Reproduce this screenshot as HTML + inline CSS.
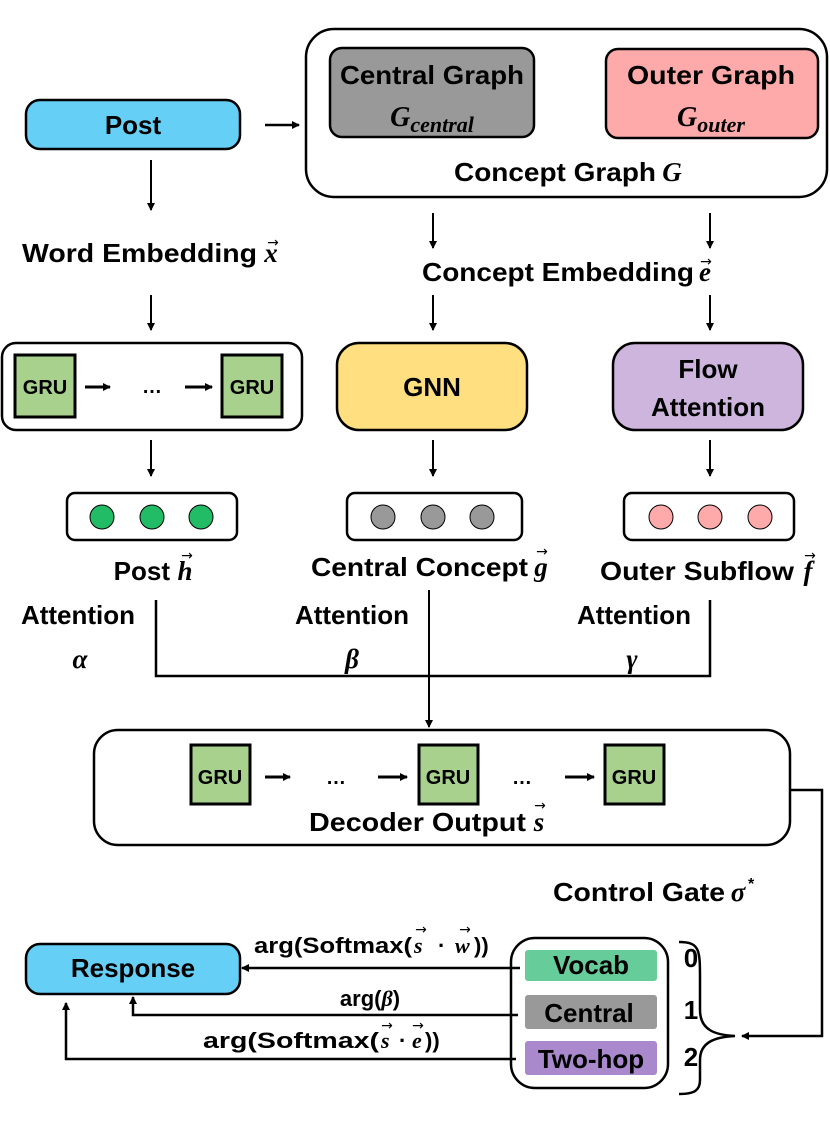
<!DOCTYPE html>
<html><head><meta charset="utf-8"><style>
html,body{margin:0;padding:0;background:#fff;}
svg{display:block;}
text{font-family:"Liberation Sans Narrow","Liberation Sans",sans-serif;font-weight:bold;fill:#000;}
text.m{font-family:"Liberation Serif",serif;font-style:italic;font-weight:bold;}
text.v{font-family:"DejaVu Sans",sans-serif;font-weight:normal;font-size:14px;}
</style></head><body>
<svg width="830" height="1148" viewBox="0 0 830 1148" xmlns="http://www.w3.org/2000/svg">
<defs>
<marker id="a" markerWidth="8" markerHeight="8" refX="7" refY="4" orient="auto" markerUnits="userSpaceOnUse"><path d="M0,0 L8,4 L0,8 z" fill="#000"/></marker>
</defs>
<g stroke="#000" stroke-width="2.5">
<rect x="26" y="100" width="214" height="49" rx="14" fill="#66CFF5"/>
<rect x="306" y="29" width="521" height="168" rx="28" fill="#fff"/>
<rect x="330" y="48" width="204" height="89" rx="12" fill="#999"/>
<rect x="606" y="49" width="212" height="89" rx="12" fill="#FFAAAA"/>
<rect x="2" y="343" width="300" height="87" rx="14" fill="#fff"/>
<rect x="15" y="355" width="60" height="62" fill="#A9D18E" stroke-width="3"/>
<rect x="222" y="355" width="60" height="62" fill="#A9D18E" stroke-width="3"/>
<rect x="337" y="343" width="190" height="87" rx="22" fill="#FFDF80"/>
<rect x="613" y="343" width="190" height="87" rx="22" fill="#CDB5DD"/>
<rect x="67" y="493" width="170" height="47" rx="8" fill="#fff"/>
<rect x="347" y="493" width="175" height="47" rx="8" fill="#fff"/>
<rect x="624" y="493" width="170" height="47" rx="8" fill="#fff"/>
<rect x="94" y="730" width="696" height="115" rx="24" fill="#fff"/>
<rect x="191" y="745" width="59" height="59" fill="#A9D18E" stroke-width="3"/>
<rect x="419" y="745" width="59" height="59" fill="#A9D18E" stroke-width="3"/>
<rect x="605" y="745" width="59" height="59" fill="#A9D18E" stroke-width="3"/>
<rect x="26" y="944" width="214" height="50" rx="14" fill="#66CFF5"/>
<rect x="511" y="938" width="157" height="150" rx="24" fill="#fff"/>
</g>
<g stroke="#000" stroke-width="1">
<circle cx="102" cy="517" r="12" fill="#22BB66"/>
<circle cx="152" cy="517" r="12" fill="#22BB66"/>
<circle cx="201" cy="517" r="12" fill="#22BB66"/>
<circle cx="383" cy="517" r="12" fill="#999"/>
<circle cx="433" cy="517" r="12" fill="#999"/>
<circle cx="482" cy="517" r="12" fill="#999"/>
<circle cx="661" cy="517" r="12" fill="#FFAAAA"/>
<circle cx="710" cy="517" r="12" fill="#FFAAAA"/>
<circle cx="760" cy="517" r="12" fill="#FFAAAA"/>
</g>
<rect x="525" y="950" width="132" height="31" rx="3" fill="#66CC99"/>
<rect x="525" y="995" width="132" height="34" rx="3" fill="#999"/>
<rect x="525" y="1041" width="132" height="34" rx="3" fill="#AA88CC"/>
<g stroke="#000" stroke-width="2" fill="none" marker-end="url(#a)">
<line x1="265" y1="125" x2="299" y2="125" stroke-width="2.5"/>
<line x1="151" y1="160" x2="151" y2="210"/>
<line x1="433" y1="213" x2="433" y2="248"/>
<line x1="710" y1="213" x2="710" y2="248"/>
<line x1="151" y1="295" x2="151" y2="330"/>
<line x1="433" y1="295" x2="433" y2="330"/>
<line x1="710" y1="295" x2="710" y2="330"/>
<line x1="151" y1="440" x2="151" y2="476"/>
<line x1="433" y1="440" x2="433" y2="476"/>
<line x1="710" y1="440" x2="710" y2="476"/>
<line x1="85" y1="387" x2="110" y2="387" stroke-width="3"/>
<line x1="185" y1="387" x2="212" y2="387" stroke-width="3"/>
<line x1="265" y1="777" x2="290" y2="777" stroke-width="3"/>
<line x1="378" y1="777" x2="407" y2="777" stroke-width="3"/>
<line x1="565" y1="777" x2="594" y2="777" stroke-width="3"/>
<line x1="429" y1="590" x2="429" y2="727"/>
</g>
<g stroke="#000" stroke-width="2.5" fill="none">
<polyline points="156,600 156,676 710,676 710,600"/>
<polyline points="790,790 822,790 822,1036 742,1036" marker-end="url(#a)"/>
<polyline points="520,968 242,968" marker-end="url(#a)"/>
<polyline points="518,1015 133,1015 133,997" marker-end="url(#a)"/>
<polyline points="516,1059 66,1059 66,1003" marker-end="url(#a)"/>
<path d="M679,942 C700,942 700,950 700,980 L700,1010 C700,1030 715,1035 735,1036 C715,1037 700,1042 700,1060 L700,1080 C700,1090 695,1094 679,1094"/>
</g>
<g font-size="26" text-anchor="middle">
<text x="133" y="134">Post</text>
<text x="432" y="84" textLength="184" lengthAdjust="spacingAndGlyphs">Central Graph</text>
<text x="711" y="84" textLength="168" lengthAdjust="spacingAndGlyphs">Outer Graph</text>
<text x="432" y="396">GNN</text>
<text x="708" y="378">Flow</text>
<text x="708" y="416">Attention</text>
<text x="78" y="624">Attention</text>
<text x="352" y="624">Attention</text>
<text x="634" y="624">Attention</text>
<text x="133" y="977">Response</text>
<text x="591" y="974">Vocab</text>
<text x="589" y="1022">Central</text>
<text x="591" y="1068">Two-hop</text>
<text x="691" y="967">0</text>
<text x="691" y="1019">1</text>
<text x="691" y="1066">2</text>
</g>
<g font-size="26" text-anchor="end">
<text x="656" y="181" textLength="202" lengthAdjust="spacingAndGlyphs">Concept Graph</text>
<text x="257" y="262" textLength="235" lengthAdjust="spacingAndGlyphs">Word Embedding</text>
<text x="694" y="281" textLength="272" lengthAdjust="spacingAndGlyphs">Concept Embedding</text>
<text x="170" y="580">Post</text>
<text x="528" y="576" textLength="217" lengthAdjust="spacingAndGlyphs">Central Concept</text>
<text x="794" y="580" textLength="194" lengthAdjust="spacingAndGlyphs">Outer Subflow</text>
<text x="526" y="831" textLength="217" lengthAdjust="spacingAndGlyphs">Decoder Output</text>
<text x="725" y="901" textLength="172" lengthAdjust="spacingAndGlyphs">Control Gate</text>
</g>
<g font-size="27" text-anchor="middle">
<text class="m" x="672" y="181">G</text>
<text class="m" x="271" y="262">x</text>
<text class="m" x="705" y="281">e</text>
<text class="m" x="185" y="580">h</text>
<text class="m" x="541" y="576">g</text>
<text class="m" x="808" y="580">f</text>
<text class="m" x="539" y="831">s</text>
<text class="m" x="738" y="901">σ</text>
<text class="m" x="80" y="668">α</text>
<text class="m" x="352" y="668">β</text>
<text class="m" x="632" y="668">γ</text>
</g>
<text x="748" y="889" font-size="16">*</text>
<g font-size="16" text-anchor="middle">
<text class="v" x="273" y="247">→</text>
<text class="v" x="706" y="266">→</text>
<text class="v" x="187" y="560">→</text>
<text class="v" x="542" y="556">→</text>
<text class="v" x="810" y="560">→</text>
<text class="v" x="540" y="810">→</text>
<text class="v" x="421" y="934">→</text>
<text class="v" x="465" y="934">→</text>
<text class="v" x="387" y="1030">→</text>
<text class="v" x="418" y="1030">→</text>
</g>
<g font-size="28" text-anchor="middle">
<text class="m" x="432" y="126">G<tspan font-size="22" dy="6">central</tspan></text>
<text class="m" x="711" y="126">G<tspan font-size="22" dy="6">outer</tspan></text>
</g>
<g font-size="20" text-anchor="middle">
<text x="45" y="394">GRU</text>
<text x="252" y="394">GRU</text>
<text x="220" y="784">GRU</text>
<text x="448" y="784">GRU</text>
<text x="634" y="784">GRU</text>
<text x="152" y="393">…</text>
<text x="336" y="784">…</text>
<text x="522" y="784">…</text>
</g>
<g font-size="22">
<text x="412" y="953" text-anchor="end" textLength="158" lengthAdjust="spacingAndGlyphs">arg(Softmax(</text>
<text class="m" x="414" y="953">s</text>
<text x="438" y="953">·</text>
<text class="m" x="455" y="953">w</text>
<text x="474" y="953">))</text>
<text x="370" y="1006" text-anchor="middle">arg(<tspan font-family="Liberation Serif" font-style="italic">β</tspan>)</text>
<text x="379" y="1048" text-anchor="end" textLength="176" lengthAdjust="spacingAndGlyphs">arg(Softmax(</text>
<text class="m" x="381" y="1048">s</text>
<text x="399" y="1048">·</text>
<text class="m" x="412" y="1048">e</text>
<text x="425" y="1048">))</text>
</g>
</svg>
</body></html>
